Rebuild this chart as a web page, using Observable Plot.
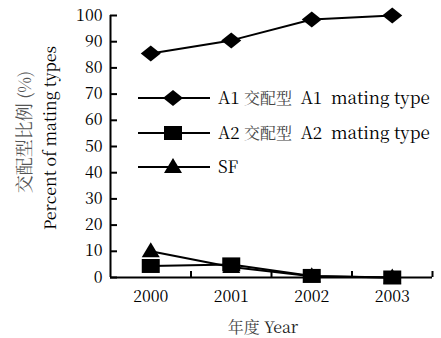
<!DOCTYPE html>
<html>
<head>
<meta charset="utf-8">
<script src="https://cdn.jsdelivr.net/npm/d3@7"></script>
<script src="https://cdn.jsdelivr.net/npm/@observablehq/plot@0.6"></script>
<style>
  html, body { margin: 0; padding: 0; background: white; }
  svg text { white-space: pre; }
</style>
</head>
<body>
<div id="chart"></div>
<script>
const years = [2000, 2001, 2002, 2003];
const a1 = [85.5, 90.5, 98.5, 100];
const a2 = [4.4, 5, 0.6, 0];
const sf = [10, 4, 0.5, 0];
const yTicks = [0, 10, 20, 30, 40, 50, 60, 70, 80, 90, 100];
const seriesNames = ["A1", "A2", "SF"];
const legendCn = ["交配型", "交配型", ""];
const legendEn = ["A1  mating type", "A2  mating type", ""];
const yTitleCn = "交配型比例";
const yTitlePct = " (%)";
const yTitleEn = "Percent of mating types";
const xTitleCn = "年度";
const xTitleEn = " Year";

const W = 441, H = 338;
const mL = 110, mR = 9, mT = 15, mB = 61;
const fw = W - mL - mR, fh = H - mT - mB;

// custom symbols
const diamond = {draw(c) { c.moveTo(-10, 0); c.lineTo(0, -8); c.lineTo(10, 0); c.lineTo(0, 8); c.closePath(); }};
const square = {draw(c) { c.moveTo(-9, -7); c.lineTo(9, -7); c.lineTo(9, 7); c.lineTo(-9, 7); c.closePath(); }};
const triangle = {draw(c) { c.moveTo(0, -9); c.lineTo(9, 6); c.lineTo(-9, 6); c.closePath(); }};
const symbols = [diamond, square, triangle];

const rows = [];
[a1, a2, sf].forEach((vals, i) => years.forEach((yr, j) => rows.push({series: seriesNames[i], year: yr, value: vals[j]})));
const bounds = years.map(y => y + 0.5);

const font = "Noto Serif CJK SC";

const svg = Plot.plot({
  width: W, height: H,
  marginLeft: mL, marginRight: mR, marginTop: mT, marginBottom: mB,
  style: {fontSize: "16px", color: "black", background: "white"},
  x: {type: "linear", domain: [years[0] - 0.5, years[years.length - 1] + 0.5], axis: null},
  y: {domain: [0, 100], axis: null},
  marks: [
    Plot.axisX(years, {tickSize: 0, tickPadding: 13, tickFormat: d => String(d), label: null, fontSize: 16}),
    Plot.axisY(yTicks, {tickSize: 0, tickPadding: 8, label: null, fontSize: 16}),
    Plot.ruleY(yTicks, {insetRight: fw - 7, strokeWidth: 2}),
    Plot.ruleX(bounds, {insetTop: fh - 6, strokeWidth: 2}),
    Plot.ruleX([years[0] - 0.5], {strokeWidth: 2}),
    Plot.ruleY([0], {strokeWidth: 2}),
    ...seriesNames.map((s, i) => Plot.line(rows.filter(d => d.series === s), {x: "year", y: "value", stroke: "black", strokeWidth: 2})),
    ...seriesNames.map((s, i) => Plot.dot(rows.filter(d => d.series === s), {x: "year", y: "value", symbol: () => symbols[i], fill: "black", stroke: "none"}))
  ]
});

const s = d3.select(svg);
function symPath(sym) { const p = d3.path(); sym.draw(p); return p.toString(); }

// legend
const legY = [98, 133, 167];
seriesNames.forEach((name, i) => {
  const g = s.append("g").attr("transform", `translate(0,${legY[i]})`);
  g.append("line").attr("x1", 138).attr("x2", 210).attr("y1", 0).attr("y2", 0).attr("stroke", "black").attr("stroke-width", 2);
  g.append("path").attr("d", symPath(symbols[i])).attr("transform", "translate(173,0)").attr("fill", "black");
  const t = g.append("text").attr("x", 218).attr("y", 6).attr("text-anchor", "start")
    .attr("font-size", 17).attr("fill", "black");
  t.append("tspan").text(name + " ");
  if (legendCn[i]) {
    t.append("tspan").text(legendCn[i]).attr("fill", "#444").attr("font-size", 16);
    t.append("tspan").text("  " + legendEn[i]);
  }
});

// axis titles
const yt = s.append("text").attr("transform", "translate(31,132) rotate(-90)").attr("text-anchor", "middle")
  .attr("font-size", 17).attr("fill", "#555");
yt.append("tspan").text(yTitleCn).attr("font-size", 18);
yt.append("tspan").text(yTitlePct);
s.append("text").attr("transform", "translate(56,138) rotate(-90)").attr("text-anchor", "middle")
  .attr("font-size", 16).attr("fill", "black").text(yTitleEn);
const xt = s.append("text").attr("x", 263).attr("y", 333).attr("text-anchor", "middle")
  .attr("font-size", 16).attr("fill", "#222");
xt.append("tspan").text(xTitleCn).attr("font-size", 16).attr("fill", "#444");
xt.append("tspan").text(xTitleEn);

svg.removeAttribute("font-family");
s.selectAll("[font-variant]").attr("font-variant", null);
s.selectAll("text, tspan").attr("font-family", font).style("font-family", font).style("font-variant", "normal");

document.getElementById("chart").appendChild(svg);
</script>
</body>
</html>
